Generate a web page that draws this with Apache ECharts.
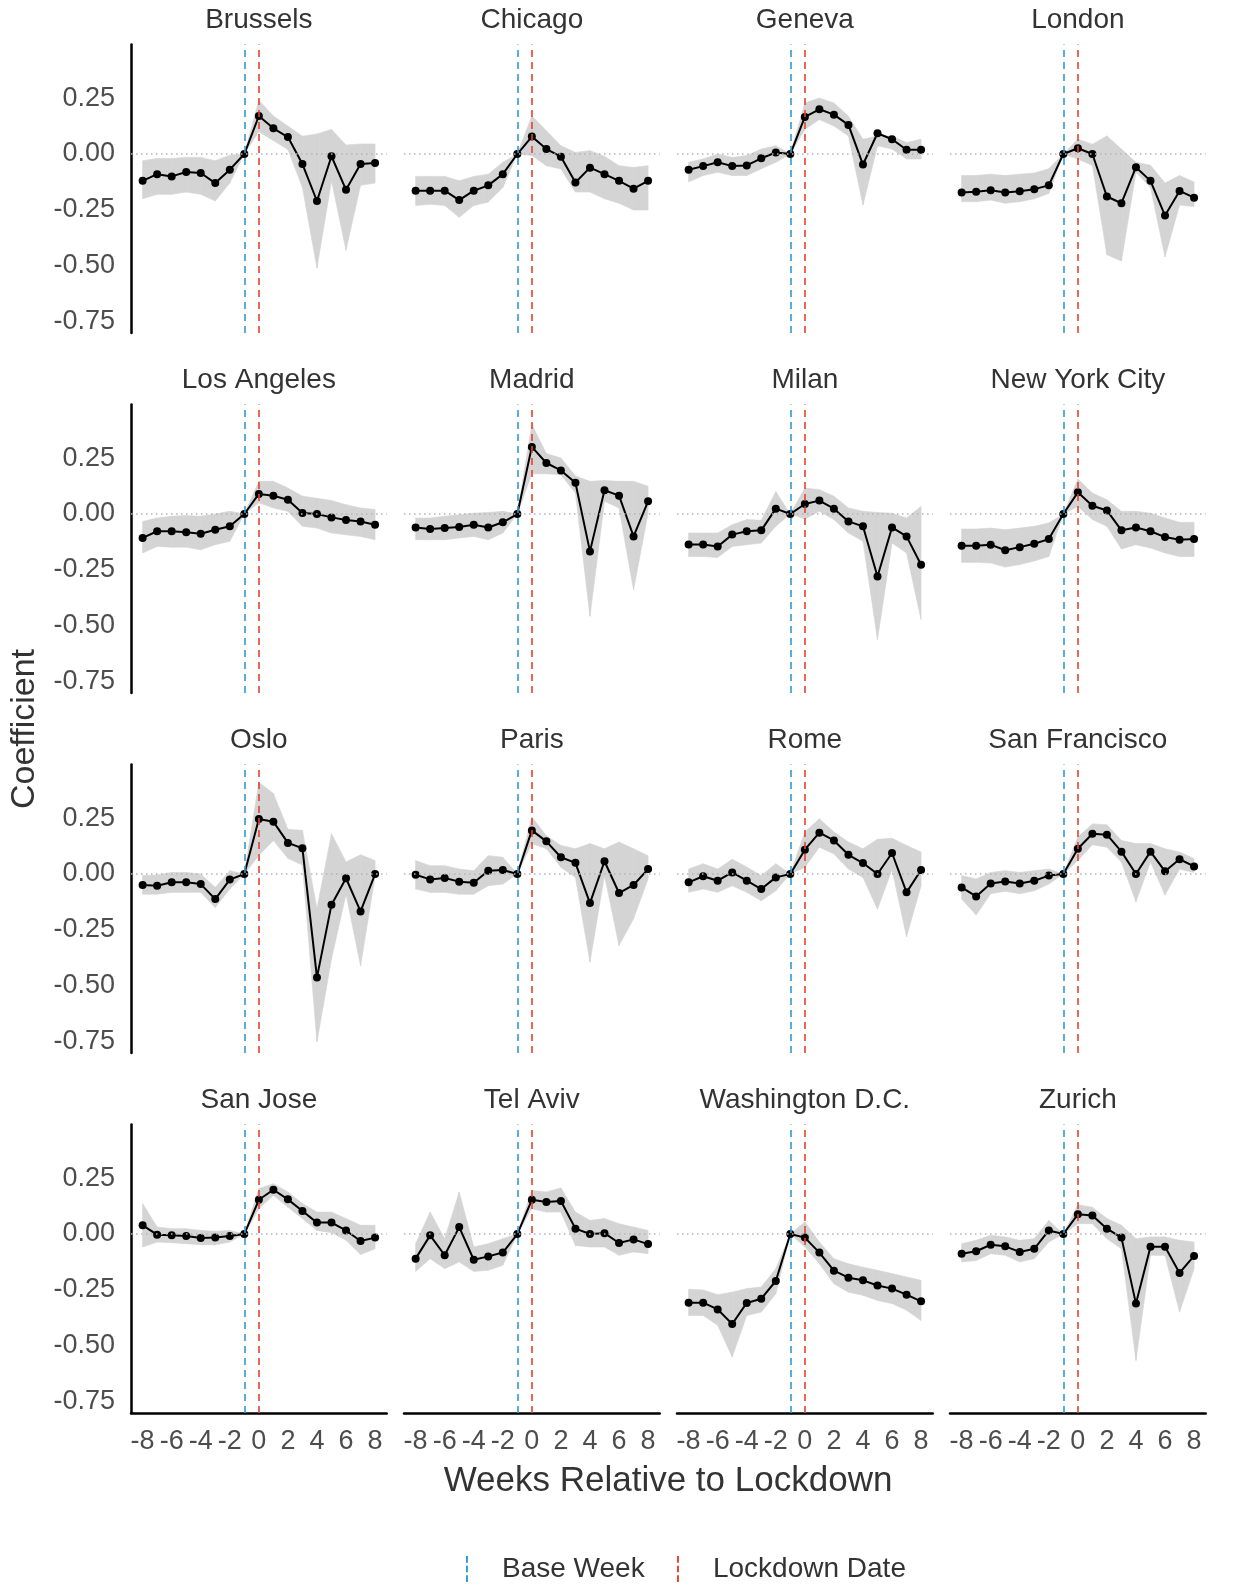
<!DOCTYPE html>
<html>
<head>
<meta charset="utf-8">
<script src="https://cdn.jsdelivr.net/npm/echarts@6/dist/echarts.min.js"></script>
<style>
  html, body { margin: 0; padding: 0; background: #fff; }
  #main { width: 1237px; height: 1585px; }
</style>
</head>
<body>
<div id="main"></div>
<script>
// weeks relative to lockdown
var WEEKS = [-8, -7, -6, -5, -4, -3, -2, -1, 0, 1, 2, 3, 4, 5, 6, 7, 8];
var X_TICKS = [-8, -6, -4, -2, 0, 2, 4, 6, 8];
var Y_TICKS = [0.25, 0, -0.25, -0.5, -0.75];
var BASE_WEEK = -1;
var LOCKDOWN_WEEK = 0;

// coefficient, lower and upper confidence bounds per city
var BRUSSELS = [-0.12, -0.09, -0.10, -0.08, -0.085, -0.13, -0.07, 0, 0.17, 0.115, 0.076, -0.045, -0.21, -0.01, -0.16, -0.045, -0.04];
var BRUSSELS_LO = [-0.2, -0.18, -0.18, -0.17, -0.18, -0.21, -0.13, 0, 0.1, 0.06, 0.02, -0.15, -0.51, -0.12, -0.43, -0.14, -0.13];
var BRUSSELS_HI = [-0.03, -0.02, -0.02, -0.015, -0.015, -0.03, -0.005, 0, 0.24, 0.17, 0.125, 0.08, 0.09, 0.11, 0.04, 0.045, 0.045];

var CHICAGO = [-0.164, -0.164, -0.164, -0.206, -0.164, -0.14, -0.09, 0, 0.078, 0.022, -0.012, -0.127, -0.061, -0.09, -0.12, -0.155, -0.12];
var CHICAGO_LO = [-0.23, -0.225, -0.23, -0.283, -0.23, -0.215, -0.15, 0, -0.007, -0.052, -0.067, -0.17, -0.17, -0.2, -0.22, -0.25, -0.25];
var CHICAGO_HI = [-0.1, -0.1, -0.1, -0.12, -0.1, -0.09, -0.037, 0, 0.17, 0.104, 0.037, 0.007, 0.015, -0.01, -0.052, -0.06, -0.052];

var GENEVA = [-0.07, -0.054, -0.037, -0.054, -0.051, -0.019, 0.007, 0, 0.166, 0.2, 0.176, 0.13, -0.047, 0.093, 0.066, 0.019, 0.019];
var GENEVA_LO = [-0.125, -0.096, -0.081, -0.096, -0.096, -0.066, -0.037, 0, 0.11, 0.154, 0.125, 0.081, -0.228, 0.037, 0.022, -0.022, -0.022];
var GENEVA_HI = [-0.037, -0.022, 0.0, -0.015, -0.007, 0.022, 0.037, 0, 0.228, 0.25, 0.228, 0.169, 0.066, 0.081, 0.081, 0.051, 0.066];

var LONDON = [-0.172, -0.169, -0.162, -0.172, -0.166, -0.157, -0.14, 0, 0.026, 0, -0.19, -0.22, -0.059, -0.12, -0.275, -0.165, -0.195];
var LONDON_LO = [-0.213, -0.213, -0.206, -0.22, -0.213, -0.2, -0.176, 0, -0.022, -0.051, -0.45, -0.478, -0.081, -0.15, -0.46, -0.228, -0.235];
var LONDON_HI = [-0.096, -0.096, -0.09, -0.096, -0.09, -0.085, -0.066, 0, 0.066, 0.044, 0.081, 0.022, -0.037, -0.05, -0.13, -0.096, -0.125];

var LOS_ANGELES = [-0.107, -0.077, -0.077, -0.082, -0.088, -0.07, -0.055, 0, 0.09, 0.082, 0.064, 0.005, 0.0, -0.015, -0.027, -0.033, -0.048];
var LOS_ANGELES_LO = [-0.174, -0.145, -0.148, -0.148, -0.16, -0.137, -0.122, 0, 0.05, 0.027, 0.012, -0.055, -0.063, -0.085, -0.093, -0.1, -0.115];
var LOS_ANGELES_HI = [-0.033, -0.018, -0.01, -0.007, -0.01, 0.0, 0.012, 0, 0.146, 0.146, 0.116, 0.08, 0.07, 0.06, 0.042, 0.027, 0.02];

var MADRID = [-0.06, -0.067, -0.063, -0.058, -0.048, -0.06, -0.037, 0, 0.3, 0.228, 0.195, 0.14, -0.167, 0.106, 0.082, -0.1, 0.057];
var MADRID_LO = [-0.115, -0.115, -0.115, -0.107, -0.1, -0.115, -0.085, 0, 0.18, 0.18, 0.176, 0.094, -0.457, 0.057, 0.027, -0.338, 0.004];
var MADRID_HI = [-0.018, -0.018, -0.01, -0.003, 0.004, 0.007, 0.012, 0, 0.4, 0.27, 0.25, 0.17, 0.146, 0.15, 0.146, 0.146, 0.124];

var MILAN = [-0.136, -0.136, -0.145, -0.092, -0.077, -0.073, 0.024, 0, 0.045, 0.06, 0.024, -0.033, -0.055, -0.279, -0.06, -0.1, -0.227];
var MILAN_LO = [-0.19, -0.19, -0.194, -0.145, -0.137, -0.13, -0.055, 0, -0.022, 0.012, -0.025, -0.085, -0.122, -0.561, -0.13, -0.174, -0.472];
var MILAN_HI = [-0.085, -0.085, -0.085, -0.048, -0.025, -0.028, 0.1, 0, 0.116, 0.109, 0.08, 0.027, 0.012, 0.007, 0.004, -0.018, 0.034];

var NEW_YORK = [-0.142, -0.142, -0.137, -0.162, -0.148, -0.133, -0.112, 0, 0.097, 0.037, 0.016, -0.073, -0.06, -0.077, -0.103, -0.115, -0.112];
var NEW_YORK_LO = [-0.216, -0.216, -0.219, -0.237, -0.226, -0.21, -0.19, 0, 0.034, -0.025, -0.055, -0.156, -0.137, -0.152, -0.174, -0.19, -0.19];
var NEW_YORK_HI = [-0.067, -0.067, -0.063, -0.07, -0.063, -0.055, -0.04, 0, 0.156, 0.094, 0.064, 0.012, 0.012, 0.004, -0.018, -0.037, -0.037];

var OSLO = [-0.049, -0.052, -0.037, -0.037, -0.045, -0.112, -0.025, 0, 0.246, 0.234, 0.139, 0.115, -0.462, -0.137, -0.019, -0.167, 0.0];
var OSLO_LO = [-0.09, -0.09, -0.082, -0.082, -0.082, -0.15, -0.067, 0, 0.083, 0.15, 0.07, 0.04, -0.75, -0.38, -0.09, -0.41, -0.01];
var OSLO_HI = [-0.007, -0.004, 0.007, 0.007, 0.0, -0.06, 0.015, 0, 0.41, 0.36, 0.2, 0.195, -0.155, 0.18, 0.054, 0.086, 0.06];

var PARIS = [-0.003, -0.024, -0.018, -0.034, -0.039, 0.015, 0.018, 0, 0.195, 0.146, 0.075, 0.05, -0.13, 0.057, -0.085, -0.049, 0.022];
var PARIS_LO = [-0.067, -0.082, -0.082, -0.09, -0.09, -0.052, -0.045, 0, 0.136, 0.113, 0.03, -0.015, -0.393, -0.007, -0.32, -0.2, -0.022];
var PARIS_HI = [0.06, 0.037, 0.037, 0.022, 0.015, 0.082, 0.075, 0, 0.255, 0.171, 0.128, 0.113, 0.136, 0.113, 0.143, 0.113, 0.082];

var ROME = [-0.037, -0.01, -0.03, 0.007, -0.03, -0.067, -0.015, 0, 0.109, 0.185, 0.15, 0.086, 0.049, 0.0, 0.094, -0.082, 0.018];
var ROME_LO = [-0.082, -0.067, -0.082, -0.052, -0.082, -0.12, -0.075, 0, 0.03, 0.12, 0.09, 0.022, -0.015, -0.157, 0.02, -0.28, -0.052];
var ROME_HI = [0.022, 0.046, 0.022, 0.066, 0.031, -0.007, 0.046, 0, 0.188, 0.247, 0.188, 0.143, 0.113, 0.155, 0.16, 0.128, 0.098];

var SAN_FRANCISCO = [-0.06, -0.1, -0.042, -0.033, -0.042, -0.03, -0.007, 0, 0.113, 0.18, 0.176, 0.1, 0.0, 0.1, 0.012, 0.066, 0.034];
var SAN_FRANCISCO_LO = [-0.112, -0.183, -0.088, -0.077, -0.088, -0.075, -0.045, 0, 0.061, 0.131, 0.12, 0.054, -0.124, 0.054, -0.094, 0.022, 0.007];
var SAN_FRANCISCO_HI = [-0.007, -0.022, 0.007, 0.015, 0.007, 0.015, 0.022, 0, 0.165, 0.224, 0.22, 0.15, 0.136, 0.136, 0.113, 0.098, 0.069];

var SAN_JOSE = [0.039, -0.003, -0.006, -0.009, -0.018, -0.016, -0.009, 0, 0.153, 0.198, 0.155, 0.103, 0.051, 0.051, 0.016, -0.031, -0.016];
var SAN_JOSE_LO = [-0.058, -0.036, -0.039, -0.043, -0.048, -0.048, -0.036, 0, 0.113, 0.173, 0.12, 0.069, 0.016, 0.006, -0.028, -0.092, -0.066];
var SAN_JOSE_HI = [0.136, 0.031, 0.024, 0.024, 0.016, 0.012, 0.016, 0, 0.203, 0.225, 0.188, 0.136, 0.098, 0.098, 0.069, 0.039, 0.039];

var TEL_AVIV = [-0.11, -0.006, -0.095, 0.031, -0.115, -0.1, -0.083, 0, 0.153, 0.143, 0.148, 0.024, 0.0, 0.004, -0.04, -0.024, -0.045];
var TEL_AVIV_LO = [-0.167, -0.11, -0.155, -0.125, -0.167, -0.162, -0.14, 0, 0.113, 0.098, 0.098, -0.051, -0.058, -0.058, -0.095, -0.08, -0.088];
var TEL_AVIV_HI = [-0.043, 0.098, -0.021, 0.188, -0.058, -0.043, -0.021, 0, 0.195, 0.188, 0.206, 0.098, 0.061, 0.069, 0.046, 0.031, 0.016];

var WASHINGTON = [-0.307, -0.307, -0.337, -0.402, -0.308, -0.289, -0.21, 0, -0.016, -0.083, -0.164, -0.195, -0.207, -0.23, -0.244, -0.271, -0.301];
var WASHINGTON_LO = [-0.364, -0.364, -0.408, -0.55, -0.364, -0.349, -0.267, 0, -0.058, -0.133, -0.222, -0.26, -0.274, -0.297, -0.311, -0.341, -0.387];
var WASHINGTON_HI = [-0.247, -0.25, -0.271, -0.26, -0.244, -0.237, -0.155, 0, 0.054, -0.036, -0.11, -0.133, -0.148, -0.162, -0.177, -0.192, -0.207];

var ZURICH = [-0.088, -0.077, -0.048, -0.055, -0.08, -0.066, 0.016, 0, 0.088, 0.083, 0.024, -0.016, -0.311, -0.057, -0.057, -0.174, -0.098];
var ZURICH_LO = [-0.125, -0.118, -0.088, -0.095, -0.125, -0.11, -0.036, 0, 0.046, 0.046, -0.021, -0.066, -0.565, -0.095, -0.095, -0.349, -0.155];
var ZURICH_HI = [-0.043, -0.028, -0.006, -0.013, -0.028, -0.021, 0.061, 0, 0.131, 0.12, 0.069, 0.039, -0.021, -0.013, -0.013, -0.028, -0.036];

var PANELS = [
  ["Brussels", BRUSSELS, BRUSSELS_LO, BRUSSELS_HI],
  ["Chicago", CHICAGO, CHICAGO_LO, CHICAGO_HI],
  ["Geneva", GENEVA, GENEVA_LO, GENEVA_HI],
  ["London", LONDON, LONDON_LO, LONDON_HI],
  ["Los Angeles", LOS_ANGELES, LOS_ANGELES_LO, LOS_ANGELES_HI],
  ["Madrid", MADRID, MADRID_LO, MADRID_HI],
  ["Milan", MILAN, MILAN_LO, MILAN_HI],
  ["New York City", NEW_YORK, NEW_YORK_LO, NEW_YORK_HI],
  ["Oslo", OSLO, OSLO_LO, OSLO_HI],
  ["Paris", PARIS, PARIS_LO, PARIS_HI],
  ["Rome", ROME, ROME_LO, ROME_HI],
  ["San Francisco", SAN_FRANCISCO, SAN_FRANCISCO_LO, SAN_FRANCISCO_HI],
  ["San Jose", SAN_JOSE, SAN_JOSE_LO, SAN_JOSE_HI],
  ["Tel Aviv", TEL_AVIV, TEL_AVIV_LO, TEL_AVIV_HI],
  ["Washington D.C.", WASHINGTON, WASHINGTON_LO, WASHINGTON_HI],
  ["Zurich", ZURICH, ZURICH_LO, ZURICH_HI]
];

var FONT = "'Liberation Sans', Arial, Helvetica, sans-serif";
var BLUE = "#2f9bd3";
var RED = "#e5432d";
var BAND = "#d4d4d4";
var DASH_ICON = "path://M0,0h2v7h-2zM0,10h2v7h-2zM0,20h2v7h-2z";

var chartDom = document.getElementById("main");
var myChart = echarts.init(chartDom);

// ribbon: one quad per pair of neighbouring weeks, placed through the axes
function renderBand(params, api) {
  var a = api.coord([api.value(0), api.value(1)]);
  var b = api.coord([api.value(3), api.value(4)]);
  var c = api.coord([api.value(3), api.value(5)]);
  var d = api.coord([api.value(0), api.value(2)]);
  return {
    type: "polygon",
    shape: { points: [a, b, c, d] },
    style: { fill: BAND, stroke: BAND, lineWidth: 0.6 }
  };
}

var grids = [], xAxes = [], yAxes = [], series = [], graphics = [];

PANELS.forEach(function (p, i) {
  var row = Math.floor(i / 4), col = i % 4;
  var left = 131 + 273 * col;
  var top = 44.4 + 360 * row;
  var w = 255.7, h = 288.6;
  var isLeft = col === 0, isBottom = row === 3;

  grids.push({ left: left, top: top, width: w, height: h, outerBoundsMode: "none" });

  xAxes.push({
    type: "value", gridIndex: i, min: -8.8, max: 8.8,
    axisLine: { show: isBottom, onZero: false, lineStyle: { color: "#000", width: 2.5 } },
    axisTick: { show: false },
    splitLine: { show: false },
    axisLabel: {
      show: isBottom, customValues: X_TICKS, margin: 15,
      fontSize: 27, color: "#4d4d4d", fontFamily: FONT
    }
  });
  yAxes.push({
    type: "value", gridIndex: i, min: -0.8, max: 0.49,
    axisLine: { show: isLeft, onZero: false, lineStyle: { color: "#000", width: 2.5 } },
    axisTick: { show: false },
    splitLine: { show: false },
    axisLabel: {
      show: isLeft, customValues: Y_TICKS, margin: 16,
      fontSize: 27, color: "#4d4d4d", fontFamily: FONT,
      formatter: function (v) { return v.toFixed(2); }
    }
  });

  var est = p[1], lo = p[2], hi = p[3];
  var bandData = [];
  for (var k = 0; k < WEEKS.length - 1; k++) {
    bandData.push([WEEKS[k], lo[k], hi[k], WEEKS[k + 1], lo[k + 1], hi[k + 1]]);
  }
  var estData = WEEKS.map(function (wk, k) { return [wk, est[k]]; });

  series.push({
    type: "custom", xAxisIndex: i, yAxisIndex: i, data: bandData,
    renderItem: renderBand, silent: true, z: 1,
    encode: { x: [0, 3], y: [1, 2, 4, 5] }
  });
  series.push({
    name: p[0], type: "line", xAxisIndex: i, yAxisIndex: i, data: estData,
    symbol: "circle", symbolSize: 8, silent: true,
    itemStyle: { color: "#000" },
    lineStyle: { color: "#000", width: 2 }, z: 3,
    markLine: {
      silent: true, symbol: "none", label: { show: false }, z: 4,
      lineStyle: { color: "#b5b5b5", type: [1.5, 3.5], width: 1.5 },
      data: [{ yAxis: 0 }]
    }
  });
  series.push({
    name: "Base Week", type: "line", xAxisIndex: i, yAxisIndex: i, data: [],
    color: BLUE, silent: true,
    markLine: {
      silent: true, symbol: "none", label: { show: false }, z: 5,
      lineStyle: { color: BLUE, type: [7, 5], width: 1.6 },
      data: [{ xAxis: BASE_WEEK }]
    }
  });
  series.push({
    name: "Lockdown Date", type: "line", xAxisIndex: i, yAxisIndex: i, data: [],
    color: RED, silent: true,
    markLine: {
      silent: true, symbol: "none", label: { show: false }, z: 5,
      lineStyle: { color: RED, type: [7, 5], width: 1.6 },
      data: [{ xAxis: LOCKDOWN_WEEK }]
    }
  });

  // strip title
  graphics.push({
    type: "text", x: left + w / 2, y: 20 + 360 * row,
    style: { text: p[0], font: "28px " + FONT, fill: "#333", align: "center", verticalAlign: "middle" }
  });
});

graphics.push({
  type: "text", x: 25, y: 729, rotation: Math.PI / 2,
  style: { text: "Coefficient", font: "34px " + FONT, fill: "#333", align: "center", verticalAlign: "middle" }
});
graphics.push({
  type: "text", x: 668, y: 1481,
  style: { text: "Weeks Relative to Lockdown", font: "35px " + FONT, fill: "#333", align: "center", verticalAlign: "middle" }
});

var option = {
  animation: false,
  backgroundColor: "#fff",
  textStyle: { fontFamily: FONT },
  grid: grids,
  xAxis: xAxes,
  yAxis: yAxes,
  legend: [
    {
      left: 466, top: 1555, padding: 0, itemWidth: 60, itemHeight: 26,
      selectedMode: false,
      textStyle: { fontSize: 28, color: "#333", fontFamily: FONT },
      data: [{ name: "Base Week", icon: DASH_ICON, itemStyle: { color: BLUE } }]
    },
    {
      left: 677, top: 1555, padding: 0, itemWidth: 60, itemHeight: 26,
      selectedMode: false,
      textStyle: { fontSize: 28, color: "#333", fontFamily: FONT },
      data: [{ name: "Lockdown Date", icon: DASH_ICON, itemStyle: { color: RED } }]
    }
  ],
  graphic: graphics,
  series: series
};

option && myChart.setOption(option);
</script>
</body>
</html>
